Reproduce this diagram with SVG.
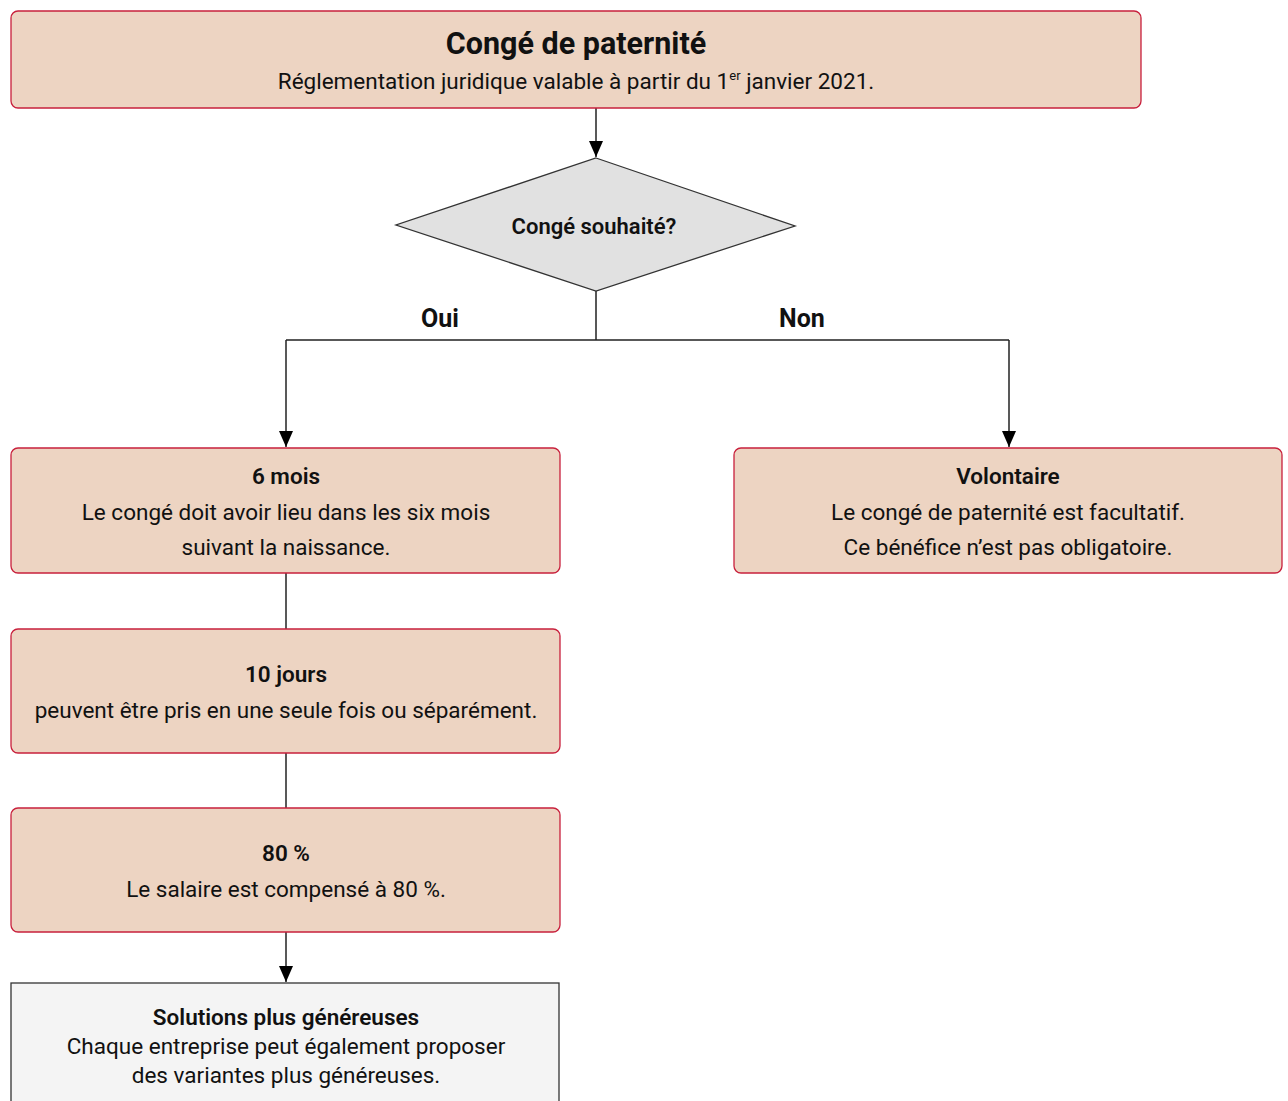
<svg xmlns="http://www.w3.org/2000/svg" width="1288" height="1101" viewBox="0 0 1288 1101">
<defs>
<marker id="arr" viewBox="0 0 16 14" refX="16" refY="7" markerWidth="16" markerHeight="14" markerUnits="userSpaceOnUse" orient="auto">
<path d="M0,0 L16,7 L0,14 z" fill="#000"/>
</marker>
<style>
.box{fill:#EDD4C2;stroke:#C8203C;stroke-width:1.3}
.grey{fill:#F4F4F4;stroke:#333;stroke-width:1.3}
.dia{fill:#E1E1E1;stroke:#333;stroke-width:1.3}
.ln{fill:none;stroke:#222;stroke-width:1.5}
text{font-family:Roboto,"Noto Sans",sans-serif;fill:#111;text-anchor:middle}
.t{font-size:22.5px}
.b{font-size:22.5px;font-weight:600}
.h{font-size:30.5px;font-weight:bold}
</style>
</defs>
<g id="connectors">
<path class="ln" d="M596,108 V157" marker-end="url(#arr)"/>
<path class="ln" d="M596,291 V340 M286,340 H1009"/>
<path class="ln" d="M286,340 V447" marker-end="url(#arr)"/>
<path class="ln" d="M1009,340 V447" marker-end="url(#arr)"/>
<path class="ln" d="M286,573 V629"/>
<path class="ln" d="M286,753 V808"/>
<path class="ln" d="M286,932 V982" marker-end="url(#arr)"/>
</g>
<g id="title">
<rect class="box" x="11" y="11" width="1130" height="97" rx="7"/>
<text class="h" x="576" y="54">Congé de paternité</text>
<text class="t" x="576" y="89">Réglementation juridique valable à partir du 1<tspan font-size="13" dy="-9">er</tspan><tspan dy="9"> janvier 2021.</tspan></text>
</g>
<g id="decision">
<polygon class="dia" points="596,158 795,226 596,291 396,225"/>
<text class="b" x="594" y="234" style="font-size:22px">Congé souhaité?</text>
</g>
<g id="labels">
<text class="b" x="440" y="327" style="font-size:25px;font-weight:bold">Oui</text>
<text class="b" x="802" y="327" style="font-size:25px;font-weight:bold">Non</text>
</g>
<g id="six-mois">
<rect class="box" x="11" y="448" width="549" height="125" rx="7"/>
<text class="b" x="286" y="484">6 mois</text>
<text class="t" x="286" y="520">Le congé doit avoir lieu dans les six mois</text>
<text class="t" x="286" y="555">suivant la naissance.</text>
</g>
<g id="volontaire">
<rect class="box" x="734" y="448" width="548" height="125" rx="7"/>
<text class="b" x="1008" y="484">Volontaire</text>
<text class="t" x="1008" y="520">Le congé de paternité est facultatif.</text>
<text class="t" x="1008" y="555">Ce bénéfice n’est pas obligatoire.</text>
</g>
<g id="dix-jours">
<rect class="box" x="11" y="629" width="549" height="124" rx="7"/>
<text class="b" x="286" y="682">10 jours</text>
<text class="t" x="286" y="718">peuvent être pris en une seule fois ou séparément.</text>
</g>
<g id="quatre-vingts">
<rect class="box" x="11" y="808" width="549" height="124" rx="7"/>
<text class="b" x="286" y="861">80 %</text>
<text class="t" x="286" y="897">Le salaire est compensé à 80 %.</text>
</g>
<g id="solutions">
<rect class="grey" x="11" y="983" width="548" height="130"/>
<text class="b" x="286" y="1025">Solutions plus généreuses</text>
<text class="t" x="286" y="1054">Chaque entreprise peut également proposer</text>
<text class="t" x="286" y="1083">des variantes plus généreuses.</text>
</g>
</svg>
